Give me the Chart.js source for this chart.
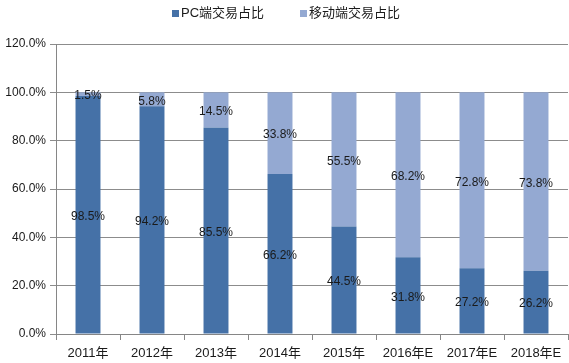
<!DOCTYPE html>
<html><head><meta charset="utf-8">
<script src="https://cdn.jsdelivr.net/npm/chart.js@4"></script>
<style>html,body{margin:0;padding:0;background:#fff}#wrap{width:569px;height:363px}</style>
</head><body><div id="wrap"><canvas id="c" width="569" height="363"></canvas></div>
<script>
const categories = ['2011年','2012年','2013年','2014年','2015年','2016年E','2017年E','2018年E'];
const pcShare = [98.5, 94.2, 85.5, 66.2, 44.5, 31.8, 27.2, 26.2];
const mobileShare = [1.5, 5.8, 14.5, 33.8, 55.5, 68.2, 72.8, 73.8];
const seriesNames = ['PC端交易占比','移动端交易占比'];

const FONT = '"Liberation Sans", "Noto Sans CJK SC", sans-serif';

const labelPlugin = {
  id: 'segLabels',
  afterDatasetsDraw(chart) {
    const ctx = chart.ctx;
    ctx.save();
    ctx.font = '12px ' + FONT;
    ctx.fillStyle = '#1a1a1a';
    ctx.textAlign = 'center';
    ctx.textBaseline = 'middle';
    chart.data.datasets.forEach((ds, di) => {
      const meta = chart.getDatasetMeta(di);
      meta.data.forEach((bar, i) => {
        const p = bar.getProps(['x','y','base'], true);
        const cy = (p.y + p.base) / 2 + 2;
        ctx.fillText(ds.data[i].toFixed(1) + '%', p.x, cy);
      });
    });
    ctx.restore();
  }
};

const legendPlugin = {
  id: 'topLegend',
  afterDraw(chart) {
    const ctx = chart.ctx;
    ctx.save();
    ctx.font = '13px ' + FONT;
    ctx.textBaseline = 'middle';
    ctx.textAlign = 'left';
    const starts = [172, 300];
    chart.data.datasets.forEach((ds, i) => {
      const x = starts[i];
      ctx.fillStyle = ds.backgroundColor;
      ctx.fillRect(x, 10, 7, 7);
      ctx.fillStyle = '#1a1a1a';
      ctx.fillText(ds.label, x + 9, 13);
    });
    ctx.restore();
  }
};

new Chart(document.getElementById('c'), {
  type: 'bar',
  data: {
    labels: categories,
    datasets: [
      { label: seriesNames[0], data: pcShare, backgroundColor: '#4571A7', borderWidth: 0,
        categoryPercentage: 1, barPercentage: 0.39 },
      { label: seriesNames[1], data: mobileShare, backgroundColor: '#94A9D2', borderWidth: 0,
        categoryPercentage: 1, barPercentage: 0.39 }
    ]
  },
  options: {
    responsive: false,
    animation: false,
    layout: { padding: { top: 44, right: 1, bottom: 0, left: 0 } },
    plugins: {
      tooltip: { enabled: false },
      legend: { display: false }
    },
    scales: {
      x: {
        stacked: true,
        grid: { offset: true, drawOnChartArea: false, tickLength: 6, color: '#868686' },
        border: { color: '#868686' },
        ticks: { color: '#1a1a1a', font: { size: 13, family: FONT }, padding: 6, maxRotation: 0 },
        afterFit(s) { s.height = 29; }
      },
      y: {
        stacked: true,
        min: 0, max: 120,
        ticks: { stepSize: 20, color: '#1a1a1a', font: { size: 12, family: FONT }, padding: 4,
          callback: v => v.toFixed(1) + '%' },
        grid: { color: '#8c8c8c', tickLength: 6 },
        border: { color: '#868686' },
        afterFit(s) { s.width = 56; }
      }
    }
  },
  plugins: [labelPlugin, legendPlugin]
});
</script>
</body></html>
